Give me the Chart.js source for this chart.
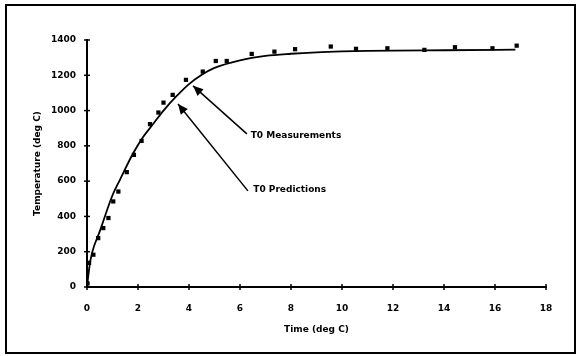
<!DOCTYPE html>
<html>
<head>
<meta charset="utf-8">
<script src="https://cdn.jsdelivr.net/npm/chart.js@4/dist/chart.umd.min.js"></script>
<style>
  html, body { margin: 0; padding: 0; background: #fff; }
  canvas { display: block; }
</style>
</head>
<body>
<canvas id="c" width="580" height="356"></canvas>
<script>
// Measurements (time, temperature)
const measTime = [0.02, 0.08, 0.25, 0.44, 0.64, 0.84, 1.03, 1.23, 1.56, 1.84, 2.14, 2.47, 2.8, 3.0, 3.36, 3.88, 4.54, 5.05, 5.48, 6.46, 7.35, 8.16, 9.56, 10.55, 11.78, 13.23, 14.43, 15.9, 16.85];
const measTemp = [20, 137, 183, 277, 334, 391, 485, 541, 651, 749, 828, 923, 989, 1045, 1089, 1174, 1221, 1281, 1281, 1321, 1334, 1348, 1363, 1350, 1353, 1344, 1359, 1353, 1368];
// Predictions curve (time, temperature)
const predTime = [0, 0.1, 0.2, 0.5, 1.0, 1.3, 1.8, 2.2, 2.6, 3.0, 3.5, 4.0, 4.5, 5.0, 6.0, 7.0, 8.0, 9.0, 10, 11, 12, 14, 16.8];
const predTemp = [0, 120, 195, 315, 520, 610, 755, 850, 925, 1000, 1080, 1150, 1203, 1242, 1285, 1310, 1322, 1330, 1335, 1338, 1340, 1342, 1345];
// Axis ticks
const xTicks = [0, 2, 4, 6, 8, 10, 12, 14, 16, 18];
const yTicks = [0, 200, 400, 600, 800, 1000, 1200, 1400];
// Annotations: labels, arrow tips and arrow tails in data units
const annLabels = ["T0 Measurements", "T0 Predictions"];
const annTipX = [4.16, 3.57];
const annTipY = [1140, 1037];
const annTailX = [6.27, 6.31];
const annTailY = [868, 545];
const annTextX = [6.42, 6.52];
const annTextY = [857, 551];

Chart.defaults.font.family = "'DejaVu Sans', 'Liberation Sans', Arial, sans-serif";
Chart.defaults.font.size = 9;
Chart.defaults.font.weight = 'bold';
Chart.defaults.color = '#000';

const framePlugin = {
  id: 'frame',
  beforeDraw(chart) {
    const ctx = chart.ctx;
    ctx.save();
    ctx.fillStyle = '#fff';
    ctx.fillRect(0, 0, chart.width, chart.height);
    ctx.strokeStyle = '#000';
    ctx.lineWidth = 2;
    ctx.strokeRect(6, 5, 569, 348);
    ctx.restore();
  },
  afterDraw(chart) {
    const ctx = chart.ctx;
    const xs = chart.scales.x, ys = chart.scales.y;
    const a = chart.chartArea;
    ctx.save();
    ctx.strokeStyle = '#000';
    ctx.lineWidth = 1.5;
    // tick crosses
    xTicks.forEach(v => {
      const px = xs.getPixelForValue(v);
      ctx.beginPath(); ctx.moveTo(px, a.bottom - 3); ctx.lineTo(px, a.bottom + 3); ctx.stroke();
    });
    yTicks.forEach(v => {
      const py = ys.getPixelForValue(v);
      ctx.beginPath(); ctx.moveTo(a.left - 3, py); ctx.lineTo(a.left + 3, py); ctx.stroke();
    });
    // annotations
    ctx.fillStyle = '#000';
    ctx.font = "bold 9px 'DejaVu Sans', 'Liberation Sans', Arial, sans-serif";
    ctx.textBaseline = 'middle';
    ctx.textAlign = 'left';
    annLabels.forEach((lab, i) => {
      const tx = xs.getPixelForValue(annTipX[i]), ty = ys.getPixelForValue(annTipY[i]);
      const sx = xs.getPixelForValue(annTailX[i]), sy = ys.getPixelForValue(annTailY[i]);
      ctx.lineWidth = 1.5;
      ctx.beginPath(); ctx.moveTo(sx, sy); ctx.lineTo(tx, ty); ctx.stroke();
      const ang = Math.atan2(ty - sy, tx - sx);
      const L = 10, W = 4.5;
      const bx = tx - L * Math.cos(ang), by = ty - L * Math.sin(ang);
      ctx.beginPath();
      ctx.moveTo(tx, ty);
      ctx.lineTo(bx + W * Math.sin(ang), by - W * Math.cos(ang));
      ctx.lineTo(bx - W * Math.sin(ang), by + W * Math.cos(ang));
      ctx.closePath();
      ctx.fill();
      ctx.fillText(lab, xs.getPixelForValue(annTextX[i]), ys.getPixelForValue(annTextY[i]));
    });
    ctx.restore();
  }
};

new Chart(document.getElementById('c'), {
  type: 'scatter',
  data: {
    datasets: [
      {
        label: 'T0 Predictions',
        type: 'line',
        data: predTime.map((t, i) => ({ x: t, y: predTemp[i] })),
        borderColor: '#000',
        borderWidth: 1.8,
        pointRadius: 0,
        fill: false,
        cubicInterpolationMode: 'monotone',
        showLine: true
      },
      {
        label: 'T0 Measurements',
        data: measTime.map((t, i) => ({ x: t, y: measTemp[i] })),
        pointStyle: 'rect',
        pointRadius: 3,
        backgroundColor: '#000',
        borderColor: '#000',
        borderWidth: 0
      }
    ]
  },
  options: {
    responsive: false,
    devicePixelRatio: 1,
    animation: false,
    layout: { padding: { left: 28, right: 34, top: 40, bottom: 17 } },
    plugins: { legend: { display: false }, tooltip: { enabled: false } },
    scales: {
      x: {
        type: 'linear',
        min: 0, max: 18,
        afterBuildTicks: (s) => { s.ticks = xTicks.map(v => ({ value: v })); },
        afterFit: (s) => { s.height = 52; },
        grid: { display: false, drawTicks: false, tickLength: 0 },
        border: { display: true, color: '#000', width: 2 },
        ticks: { padding: 16, maxRotation: 0, autoSkip: false, font: { size: 9, weight: 'bold' }, callback: (v) => String(v) },
        title: { display: true, text: 'Time (deg C)', font: { size: 9, weight: 'bold' }, padding: { top: 4, bottom: 4 } }
      },
      y: {
        type: 'linear',
        min: 0, max: 1400,
        afterBuildTicks: (s) => { s.ticks = yTicks.map(v => ({ value: v })); },
        afterFit: (s) => { s.width = 59; },
        grid: { display: false, drawTicks: false, tickLength: 0 },
        border: { display: true, color: '#000', width: 2 },
        ticks: { padding: 11, autoSkip: false, font: { size: 9, weight: 'bold' }, callback: (v) => String(v) },
        title: { display: true, text: 'Temperature (deg C)', font: { size: 9, weight: 'bold' }, padding: { top: 4, bottom: 4 } }
      }
    }
  },
  plugins: [framePlugin]
});
</script>
</body>
</html>
